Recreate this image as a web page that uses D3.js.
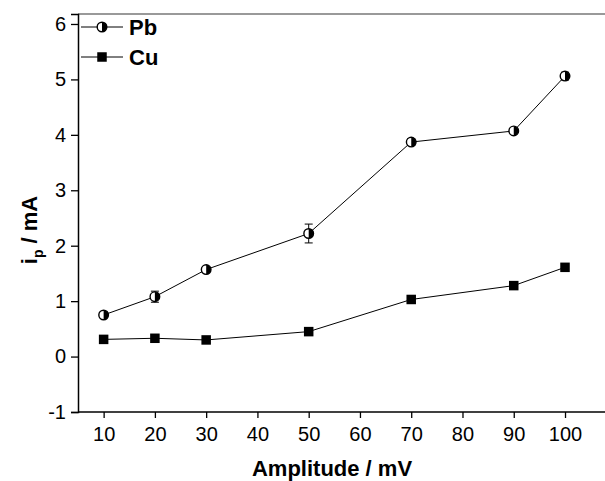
<!DOCTYPE html>
<html>
<head>
<meta charset="utf-8">
<script src="https://cdn.jsdelivr.net/npm/d3@7"></script>
<style>
  body { margin: 0; background: #fff; }
  text { font-family: "Liberation Sans", Arial, sans-serif; }
</style>
</head>
<body>
<div id="canvas"></div>
<script>
"use strict"

// DATA
let amplitudes = [10, 20, 30, 50, 70, 90, 100];
let pbValues = [0.75, 1.08, 1.57, 2.22, 3.87, 4.07, 5.06];
let pbErrors = [0.04, 0.10, 0.04, 0.17, 0.06, 0.03, 0.07];
let cuValues = [0.31, 0.33, 0.30, 0.45, 1.03, 1.28, 1.61];
let xTicks = [10, 20, 30, 40, 50, 60, 70, 80, 90, 100];
let yTicks = [-1, 0, 1, 2, 3, 4, 5, 6];
let seriesNames = ["Pb", "Cu"];

/* drawing config */
let svgWidth = 605;
let svgHeight = 481;
let marginLeft = 78;
let marginTop = 14;
let plotBottom = 412;

let svg = d3.select("#canvas")
  .append("svg")
  .attr("width", svgWidth)
  .attr("height", svgHeight);

let xScale = d3.scaleLinear()
  .domain([5, 107.8])
  .range([marginLeft, svgWidth]);

let yScale = d3.scaleLinear()
  .domain([-1, 6.18])
  .range([plotBottom, marginTop]);

// top frame line (grey)
svg.append("line")
  .attr("x1", marginLeft).attr("x2", svgWidth)
  .attr("y1", marginTop).attr("y2", marginTop)
  .attr("stroke", "#777").attr("stroke-width", 1.3);

// axes
let plainFormat = function (d) { return String(d); };

let xAxis = svg.append("g")
  .attr("transform", "translate(0," + plotBottom + ")")
  .call(d3.axisBottom(xScale).tickValues(xTicks).tickFormat(plainFormat)
    .tickSizeOuter(0).tickSize(6).tickPadding(9));

let yAxis = svg.append("g")
  .attr("transform", "translate(" + marginLeft + ",0)")
  .call(d3.axisLeft(yScale).tickValues(yTicks).tickFormat(plainFormat)
    .tickSizeOuter(0).tickSize(7).tickPadding(5));

[xAxis, yAxis].forEach(function (ax) {
  ax.attr("font-size", 20).attr("font-family", "Liberation Sans, Arial, sans-serif");
  ax.select(".domain").attr("stroke", "#000").attr("stroke-width", 1.5);
  ax.selectAll(".tick line").attr("stroke", "#000").attr("stroke-width", 1.3);
  ax.selectAll(".tick text").attr("fill", "#000");
});
xAxis.select(".domain").attr("d", "M" + marginLeft + ",0H" + svgWidth);

// axis labels
svg.append("text")
  .attr("x", 332)
  .attr("y", 476)
  .attr("text-anchor", "middle")
  .style("font-size", "22px")
  .style("font-weight", "bold")
  .text("Amplitude / mV");

let yLab = svg.append("text")
  .attr("transform", "translate(37,230) rotate(-90)")
  .attr("text-anchor", "middle")
  .style("font-size", "22px")
  .style("font-weight", "bold");
yLab.append("tspan").text("i");
yLab.append("tspan").attr("dy", 6).style("font-size", "14px").text("p");
yLab.append("tspan").attr("dy", -6).text(" / mA");

// line generator
let line = d3.line()
  .x(function (d, i) { return xScale(amplitudes[i]); })
  .y(function (d) { return yScale(d); });

svg.append("path")
  .datum(pbValues)
  .attr("d", line)
  .attr("fill", "none")
  .attr("stroke", "#000")
  .attr("stroke-width", 1);

svg.append("path")
  .datum(cuValues)
  .attr("d", line)
  .attr("fill", "none")
  .attr("stroke", "#000")
  .attr("stroke-width", 1);

// error bars for Pb
let errG = svg.append("g").attr("stroke", "#000").attr("stroke-width", 1);
pbValues.forEach(function (v, i) {
  let x = xScale(amplitudes[i]);
  let y1 = yScale(v + pbErrors[i]);
  let y2 = yScale(v - pbErrors[i]);
  errG.append("line").attr("x1", x).attr("x2", x).attr("y1", y1).attr("y2", y2);
  errG.append("line").attr("x1", x - 4).attr("x2", x + 4).attr("y1", y1).attr("y2", y1);
  errG.append("line").attr("x1", x - 4).attr("x2", x + 4).attr("y1", y2).attr("y2", y2);
});

// half filled circle marker
function halfCircle(g, cx, cy, r) {
  g.append("circle")
    .attr("cx", cx).attr("cy", cy).attr("r", r)
    .attr("fill", "#fff").attr("stroke", "#000").attr("stroke-width", 1.4);
  g.append("path")
    .attr("d", "M" + cx + "," + (cy - r) + " A" + r + "," + r + " 0 0 1 " + cx + "," + (cy + r) + " Z")
    .attr("fill", "#000");
}

function square(g, cx, cy, s) {
  g.append("rect")
    .attr("x", cx - s / 2).attr("y", cy - s / 2)
    .attr("width", s).attr("height", s)
    .attr("fill", "#000");
}

let markers = svg.append("g");
pbValues.forEach(function (v, i) {
  halfCircle(markers, xScale(amplitudes[i]), yScale(v), 4.8);
});
cuValues.forEach(function (v, i) {
  square(markers, xScale(amplitudes[i]), yScale(v), 9.5);
});

// legend
let legendY = [27, 57];
seriesNames.forEach(function (name, i) {
  let y = legendY[i];
  svg.append("line")
    .attr("x1", 81).attr("x2", 123)
    .attr("y1", y).attr("y2", y)
    .attr("stroke", "#000").attr("stroke-width", 1);
  if (i == 0) {
    halfCircle(svg, 102, y, 4.8);
  } else {
    square(svg, 102, y, 9.5);
  }
  svg.append("text")
    .attr("x", 129)
    .attr("y", y + 8)
    .style("font-size", "22px")
    .style("font-weight", "bold")
    .text(name);
});
</script>
</body>
</html>
